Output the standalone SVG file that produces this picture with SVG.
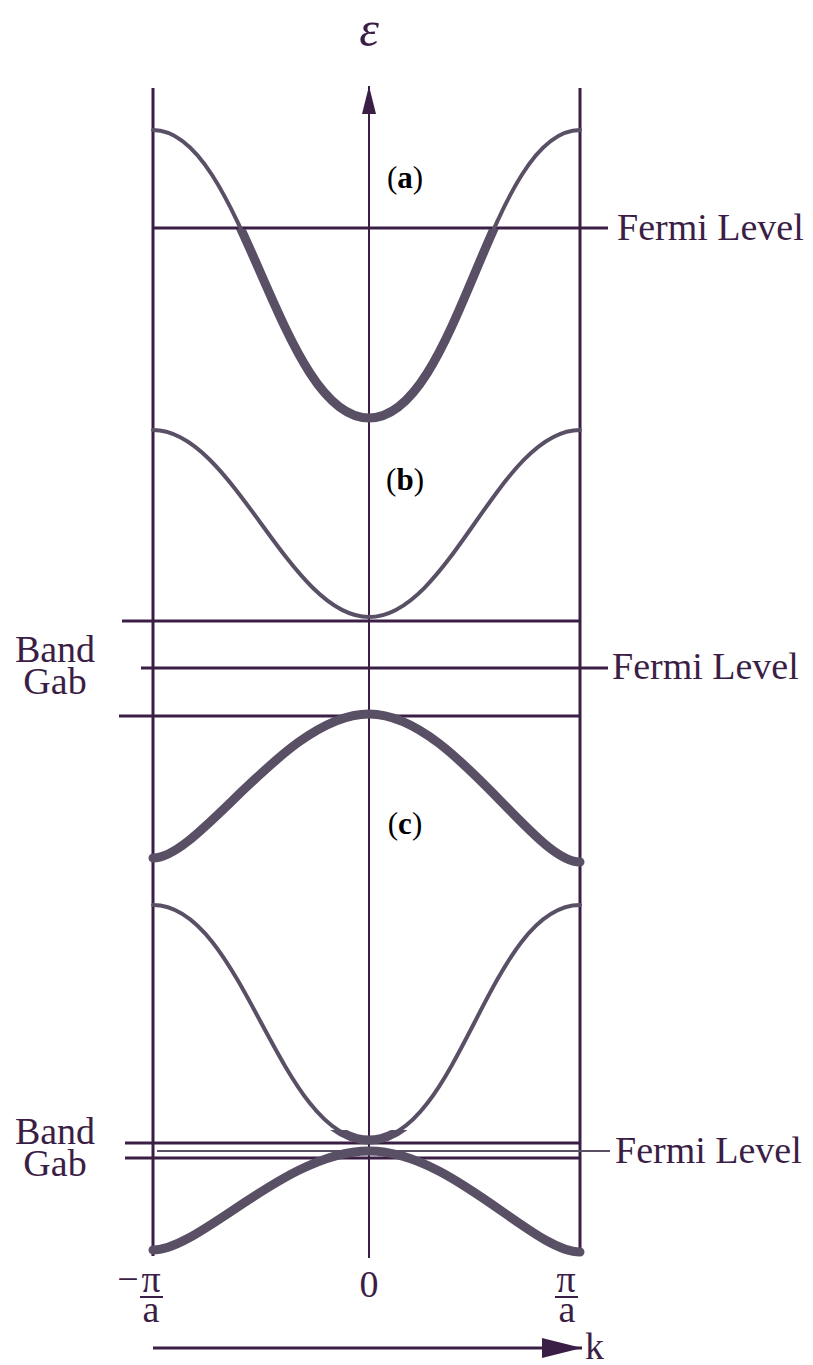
<svg xmlns="http://www.w3.org/2000/svg" width="813" height="1365" viewBox="0 0 813 1365">
<style>
.ax{stroke:#3b1e45;stroke-width:3;fill:none}
.ax2{stroke:#3b1e45;stroke-width:2;fill:none}
.cv{stroke:#5a5066;stroke-width:4;fill:none;stroke-linecap:round}
.ck{stroke:#5a5066;stroke-width:9;fill:none;stroke-linecap:round}
.t{font-family:"Liberation Serif","Times New Roman",serif;fill:#3b1e45}
.lbl{font-size:38px}
.pl{font-size:31px;fill:#000}
</style>
<defs>
<clipPath id="clipA"><rect x="0" y="229" width="813" height="300"/></clipPath>
<clipPath id="clipC"><rect x="0" y="1130" width="813" height="40"/></clipPath>
<marker id="arr" viewBox="0 0 40 20" refX="40" refY="10" markerWidth="40" markerHeight="20" markerUnits="userSpaceOnUse" orient="auto"><path d="M0,0 L40,10 L0,20 Z" fill="#3b1e45"/></marker>
<marker id="arrUp" viewBox="0 0 28 14" refX="28" refY="7" markerWidth="28" markerHeight="14" markerUnits="userSpaceOnUse" orient="auto"><path d="M0,0 L28,7 L0,14 Z" fill="#3b1e45"/></marker>
</defs>

<g id="axes">
<line class="ax" x1="153" y1="88" x2="153" y2="1256"/>
<line class="ax" x1="580" y1="88" x2="580" y2="1256"/>
<line class="ax2" x1="369" y1="1258" x2="369" y2="86" marker-end="url(#arrUp)"/>
<line class="ax" x1="153" y1="1348" x2="582" y2="1348" marker-end="url(#arr)"/>
</g>

<g id="levels">
<line class="ax" x1="153" y1="228" x2="608" y2="228"/>
<line class="ax" x1="122" y1="621" x2="580" y2="621"/>
<line class="ax" x1="141" y1="668" x2="608" y2="668"/>
<line class="ax" x1="119" y1="716" x2="580" y2="716"/>
<line class="ax" x1="125" y1="1143" x2="580" y2="1143"/>
<line stroke="#5a5066" stroke-width="2" x1="157" y1="1151" x2="610" y2="1151"/>
<line class="ax" x1="125" y1="1158" x2="580" y2="1158"/>
</g>

<g id="band-a">
<path class="cv" d="M153,130 C243,130 279,418 369,418 C459,418 490,130 580,130"/>
<path class="ck" clip-path="url(#clipA)" d="M153,130 C243,130 279,418 369,418 C459,418 490,130 580,130"/>
</g>
<g id="band-b">
<path class="cv" d="M153,430 C233,430 289,617 369,617 C449,617 500,430 580,430"/>
<path class="ck" d="M153,858 C200,858 286,714 369,714 C452,714 533,862 580,862"/>
</g>
<g id="band-c">
<path class="cv" d="M153,905 C243,905 279,1140 369,1140 C459,1140 490,905 580,905"/>
<path class="ck" clip-path="url(#clipC)" d="M153,905 C243,905 279,1140 369,1140 C459,1140 490,905 580,905"/>
<path class="ck" d="M153,1250 C200,1250 286,1151 369,1151 C452,1151 533,1252 580,1252"/>
</g>

<g id="labels">
<text class="t" x="369" y="46" font-size="50" font-style="italic" text-anchor="middle" fill="#000">ε</text>
<text class="t pl" x="405" y="188" text-anchor="middle">(<tspan font-weight="bold">a</tspan>)</text>
<text class="t pl" x="405" y="490" text-anchor="middle">(<tspan font-weight="bold">b</tspan>)</text>
<text class="t pl" x="405" y="834" text-anchor="middle">(<tspan font-weight="bold">c</tspan>)</text>
<text class="t lbl" x="617" y="240">Fermi Level</text>
<text class="t lbl" x="612" y="679">Fermi Level</text>
<text class="t lbl" x="615" y="1163">Fermi Level</text>
<text class="t lbl" x="55" y="662" text-anchor="middle">Band</text>
<text class="t lbl" x="55" y="694" text-anchor="middle">Gab</text>
<text class="t lbl" x="55" y="1144" text-anchor="middle">Band</text>
<text class="t lbl" x="55" y="1176" text-anchor="middle">Gab</text>
<text class="t lbl" x="128" y="1292" text-anchor="middle">−</text>
<text class="t lbl" x="151" y="1292" text-anchor="middle">π</text>
<line class="ax2" x1="140" y1="1297" x2="163" y2="1297"/>
<text class="t lbl" x="151" y="1322" text-anchor="middle">a</text>
<text class="t lbl" x="369" y="1297" text-anchor="middle">0</text>
<text class="t lbl" x="566" y="1292" text-anchor="middle">π</text>
<line class="ax2" x1="555" y1="1297" x2="578" y2="1297"/>
<text class="t lbl" x="567" y="1322" text-anchor="middle">a</text>
<text class="t lbl" x="585" y="1359">k</text>
</g>
</svg>
